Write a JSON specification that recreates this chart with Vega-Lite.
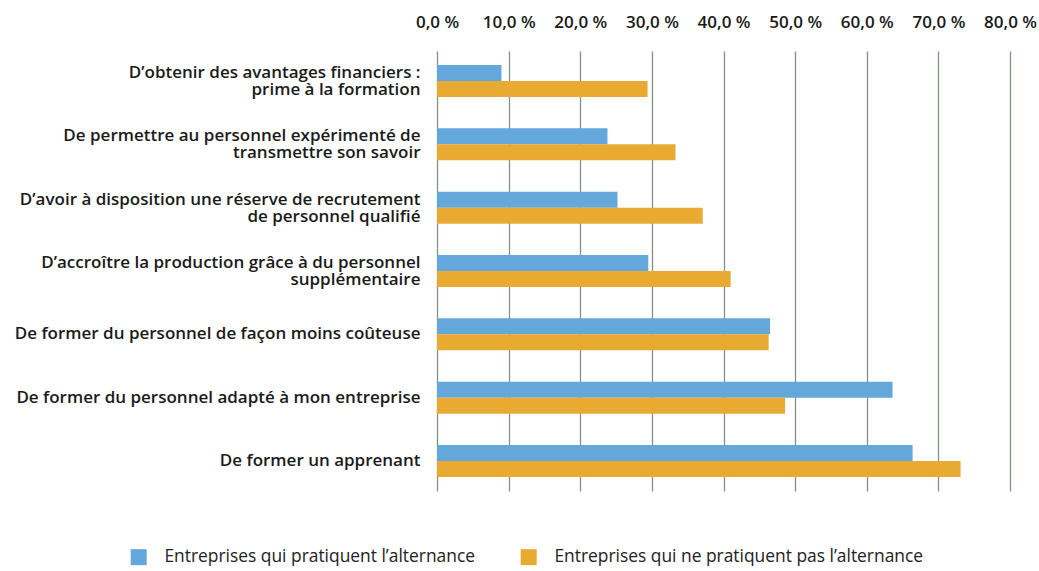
{
  "$schema": "https://vega.github.io/schema/vega-lite/v6.json",
  "width": 573,
  "height": 440,
  "autosize": {"type": "none"},
  "padding": {"left": 437, "top": 51, "right": 29, "bottom": 80},
  "background": "white",
  "config": {
    "view": {"stroke": null},
    "font": "Open Sans"
  },
  "data": {
    "values": [
      {"label": "D’obtenir des avantages financiers :\nprime à la formation", "group": "Entreprises qui pratiquent l’alternance", "value": 9.0},
      {"label": "D’obtenir des avantages financiers :\nprime à la formation", "group": "Entreprises qui ne pratiquent pas l’alternance", "value": 29.4},
      {"label": "De permettre au personnel expérimenté de\ntransmettre son savoir", "group": "Entreprises qui pratiquent l’alternance", "value": 23.8},
      {"label": "De permettre au personnel expérimenté de\ntransmettre son savoir", "group": "Entreprises qui ne pratiquent pas l’alternance", "value": 33.3},
      {"label": "D’avoir à disposition une réserve de recrutement\nde personnel qualifié", "group": "Entreprises qui pratiquent l’alternance", "value": 25.2},
      {"label": "D’avoir à disposition une réserve de recrutement\nde personnel qualifié", "group": "Entreprises qui ne pratiquent pas l’alternance", "value": 37.1},
      {"label": "D’accroître la production grâce à du personnel\nsupplémentaire", "group": "Entreprises qui pratiquent l’alternance", "value": 29.5},
      {"label": "D’accroître la production grâce à du personnel\nsupplémentaire", "group": "Entreprises qui ne pratiquent pas l’alternance", "value": 41.0},
      {"label": "De former du personnel de façon moins coûteuse", "group": "Entreprises qui pratiquent l’alternance", "value": 46.5},
      {"label": "De former du personnel de façon moins coûteuse", "group": "Entreprises qui ne pratiquent pas l’alternance", "value": 46.3},
      {"label": "De former du personnel adapté à mon entreprise", "group": "Entreprises qui pratiquent l’alternance", "value": 63.6},
      {"label": "De former du personnel adapté à mon entreprise", "group": "Entreprises qui ne pratiquent pas l’alternance", "value": 48.6},
      {"label": "De former un apprenant", "group": "Entreprises qui pratiquent l’alternance", "value": 66.4},
      {"label": "De former un apprenant", "group": "Entreprises qui ne pratiquent pas l’alternance", "value": 73.1}
    ]
  },
  "mark": {"type": "bar"},
  "encoding": {
    "y": {
      "field": "label",
      "type": "nominal",
      "sort": null,
      "scale": {"paddingInner": 0.495, "paddingOuter": 0.22},
      "axis": {
        "title": null,
        "domain": false,
        "ticks": false,
        "labelExpr": "split(datum.label, '\\n')",
        "labelFontSize": 17,
        "labelFontWeight": 600,
        "labelColor": "#1a1a1a",
        "labelLineHeight": 17,
        "labelPadding": 17,
        "labelLimit": 500,
        "labelOffset": {"condition": {"test": "indexof(datum.label, '\\n') >= 0", "value": -8}, "value": 0}
      }
    },
    "yOffset": {
      "field": "group",
      "type": "nominal",
      "sort": ["Entreprises qui pratiquent l’alternance", "Entreprises qui ne pratiquent pas l’alternance"],
      "scale": {"paddingInner": 0, "paddingOuter": 0}
    },
    "x": {
      "field": "value",
      "type": "quantitative",
      "scale": {"domain": [0, 80], "nice": false},
      "axis": {
        "orient": "top",
        "title": null,
        "values": [0, 10, 20, 30, 40, 50, 60, 70, 80],
        "domain": false,
        "ticks": false,
        "grid": true,
        "gridColor": "#7f957d",
        "gridWidth": 1.3,
        "labelExpr": "replace(format(datum.value, '.1f'), '.', ',') + ' %'",
        "labelFontSize": 17,
        "labelFontWeight": 600,
        "labelColor": "#1a1a1a",
        "labelPadding": 20,
        "labelFlush": false
      }
    },
    "color": {
      "field": "group",
      "type": "nominal",
      "scale": {
        "domain": ["Entreprises qui pratiquent l’alternance", "Entreprises qui ne pratiquent pas l’alternance"],
        "range": ["#64a7db", "#e8aa31"]
      },
      "legend": {
        "title": null,
        "orient": "none",
        "legendX": -307,
        "legendY": 497,
        "direction": "horizontal",
        "symbolType": "square",
        "symbolSize": 256,
        "symbolStrokeWidth": 0,
        "symbolOpacity": 1,
        "labelFontSize": 17.4,
        "labelFont": "Open Sans",
        "labelColor": "#222222",
        "labelOffset": 17,
        "columnPadding": 44,
        "labelLimit": 400
      }
    }
  }
}
